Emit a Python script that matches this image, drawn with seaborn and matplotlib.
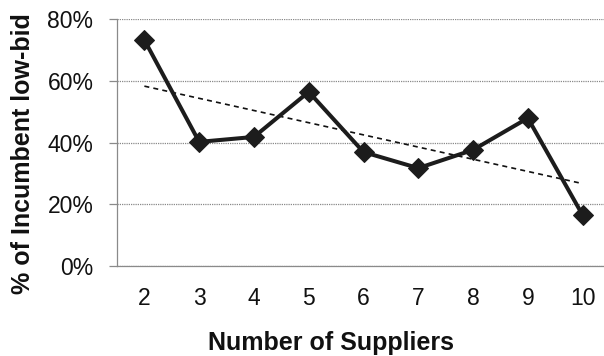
import numpy as np
import pandas as pd
import matplotlib
matplotlib.use("Agg")
import matplotlib.pyplot as plt
import seaborn as sns
from matplotlib.ticker import FixedLocator, PercentFormatter

suppliers = ["2", "3", "4", "5", "6", "7", "8", "9", "10"]
incumbent_low_bid = [73.2, 40.2, 41.8, 56.4, 36.9, 31.7, 37.6, 47.9, 16.5]
y_ticks = [0, 20, 40, 60, 80]

sns.set_style("white")
plt.rcParams["font.family"] = ["Liberation Sans", "DejaVu Sans"]

df = pd.DataFrame({"pos": np.arange(len(suppliers)), "share": incumbent_low_bid})

fig = plt.figure(figsize=(6.04, 3.56), dpi=100)
ax = fig.add_axes([117 / 604, 90 / 356, 493 / 604, 247 / 356])

# linear trendline through the series
coef = np.polyfit(df["pos"], df["share"], 1)
trend = np.polyval(coef, df["pos"])
ax.plot(df["pos"], trend, color="#111111", lw=1.2, ls=(0, (3, 2.5)), zorder=2)

sns.lineplot(data=df, x="pos", y="share", ax=ax, color="#1c1c1c", lw=2.9,
             marker="D", markersize=10.5, markeredgecolor="#1c1c1c", zorder=3)

ax.set_xlim(-0.5, len(suppliers) - 0.5)
ax.set_ylim(0, 80)
ax.set_yticks(y_ticks)
ax.yaxis.set_major_formatter(PercentFormatter(decimals=0))
ax.set_xticks(df["pos"])
ax.set_xticklabels(suppliers)
ax.xaxis.set_minor_locator(FixedLocator(np.arange(-0.5, len(suppliers), 1.0)))

ax.grid(axis="y", color="#8a8a8a", lw=0.9, ls=(0, (1, 0.8)))
for side in ["top", "right"]:
    ax.spines[side].set_visible(False)
for side in ["left", "bottom"]:
    ax.spines[side].set_color("#8a8a8a")
    ax.spines[side].set_linewidth(0.9)

ax.tick_params(axis="x", which="major", length=0, labelsize=16.5, pad=15, colors="#111111")
ax.tick_params(axis="x", which="minor", length=5, width=0.9, color="#8a8a8a", direction="out")
ax.tick_params(axis="y", which="major", length=6, width=0.9, color="#8a8a8a",
               labelsize=16.5, pad=11, labelcolor="#111111", left=True)

ax.set_xlabel("Number of Suppliers", fontsize=18, fontweight="bold", color="#111111")
ax.xaxis.set_label_coords(0.434, -0.265)
ax.set_ylabel("% of Incumbent low-bid", fontsize=18, fontweight="bold", color="#111111")
ax.yaxis.set_label_coords(-0.167, 0.455)

fig.savefig("out.png", dpi=100)
